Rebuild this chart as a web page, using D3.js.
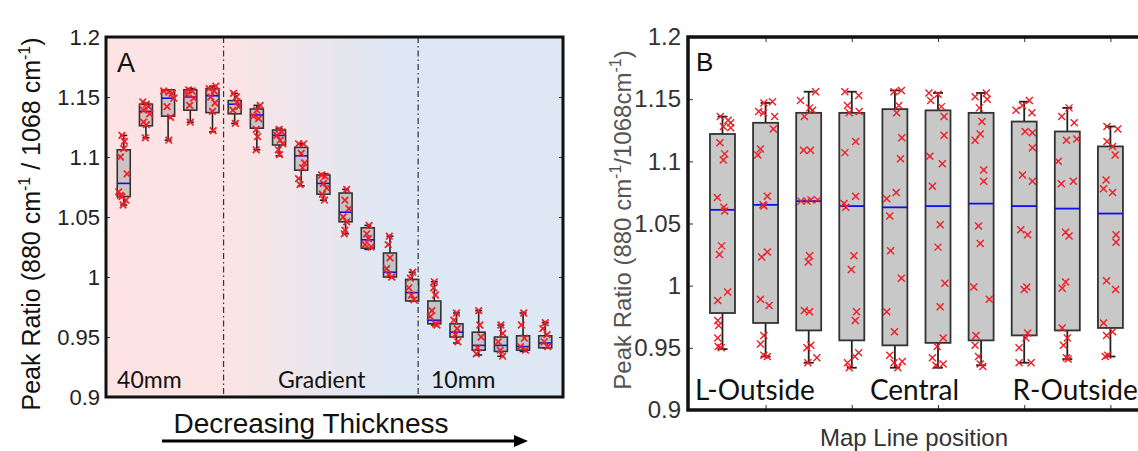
<!DOCTYPE html>
<html lang="en">
<head>
<meta charset="UTF-8">
<title>Peak ratio boxplots</title>
<script src="https://cdn.jsdelivr.net/npm/d3@7"></script>
<style>
  html, body { margin: 0; padding: 0; background: #fff; }
  svg { display: block; }
  .tick-lab { font-family: "Liberation Sans", Arial, sans-serif; }
  .cal { font-family: Lato, "Open Sans", sans-serif; }
</style>
</head>
<body>
<div id="vis"></div>
<script>
// ---------- panel A : 20 positions, decreasing thickness ----------
var aPos = d3.range(1, 21);
var aLo  = [1.060,1.116,1.114,1.129,1.121,1.128,1.106,1.101,1.076,1.064,1.036,1.023,1.000,0.980,0.960,0.945,0.935,0.934,0.938,0.941];
var aQ1  = [1.067,1.126,1.134,1.139,1.137,1.136,1.124,1.110,1.089,1.069,1.046,1.024,1.000,0.980,0.961,0.950,0.939,0.938,0.939,0.941];
var aMed = [1.078,1.138,1.149,1.150,1.151,1.144,1.135,1.118,1.101,1.078,1.054,1.031,1.004,0.987,0.964,0.954,0.943,0.943,0.942,0.945];
var aQ3  = [1.106,1.144,1.156,1.156,1.157,1.147,1.140,1.1225,1.108,1.085,1.070,1.041,1.020,0.998,0.980,0.961,0.954,0.950,0.951,0.951];
var aHi  = [1.118,1.145,1.156,1.157,1.159,1.153,1.143,1.124,1.111,1.086,1.073,1.043,1.034,1.004,0.996,0.970,0.972,0.960,0.970,0.962];
// points: [offset in category units, value]
var aPts = [
  [[-0.08,1.118],[0.03,1.113],[0,1.107],[-0.15,1.100],[0.15,1.086],[-0.23,1.071],[-0.15,1.068],[-0.08,1.067],[-0.03,1.060],[0.1,1.064]],
  [[-0.14,1.146],[0.02,1.144],[0.12,1.142],[-0.11,1.139],[0.17,1.136],[-0.11,1.129],[0.02,1.127],[-0.03,1.116]],
  [[-0.20,1.155],[0.03,1.154],[0.18,1.153],[0.26,1.149],[-0.05,1.142],[0.11,1.133],[0.03,1.114]],
  [[-0.08,1.156],[0.08,1.155],[-0.15,1.152],[0.15,1.149],[-0.03,1.143],[0,1.129]],
  [[-0.15,1.157],[0.15,1.159],[0.08,1.155],[-0.08,1.150],[0.11,1.145],[0,1.138],[0.03,1.122]],
  [[-0.05,1.153],[0.08,1.150],[0.11,1.146],[0.18,1.142],[-0.08,1.139],[0.03,1.128]],
  [[0.15,1.143],[0,1.139],[-0.15,1.134],[0.08,1.132],[-0.03,1.123],[0.03,1.117],[-0.03,1.106]],
  [[0,1.123],[0.12,1.121],[-0.1,1.118],[0.05,1.114],[0.17,1.111],[-0.03,1.106],[0.02,1.102]],
  [[-0.12,1.111],[0.11,1.111],[0,1.103],[0.15,1.095],[0.06,1.091],[-0.12,1.082],[-0.05,1.077]],
  [[-0.08,1.085],[0.08,1.084],[0,1.078],[0.15,1.074],[-0.05,1.069],[0.05,1.064]],
  [[0.05,1.073],[-0.03,1.064],[0.15,1.057],[-0.11,1.050],[0.05,1.046],[-0.03,1.039],[-0.06,1.036]],
  [[0.06,1.043],[-0.05,1.036],[0.03,1.032],[-0.12,1.027],[0.15,1.025]],
  [[-0.03,1.034],[-0.08,1.027],[0,1.016],[-0.15,1.007],[-0.05,1.002],[0.08,1.000]],
  [[0.03,1.004],[-0.08,0.999],[-0.15,0.991],[-0.03,0.985],[0.08,0.981]],
  [[0,0.996],[-0.03,0.991],[0.05,0.985],[-0.11,0.972],[-0.18,0.967],[0.05,0.961],[0.12,0.960]],
  [[0,0.970],[-0.12,0.964],[0.03,0.957],[-0.05,0.952],[0.06,0.946]],
  [[0,0.972],[0.05,0.960],[0.11,0.950],[-0.05,0.941],[-0.11,0.936]],
  [[0,0.960],[0.08,0.953],[-0.12,0.946],[-0.03,0.939],[0.08,0.934]],
  [[0.03,0.970],[-0.08,0.960],[0.06,0.949],[-0.12,0.942],[0.11,0.939]],
  [[0,0.962],[-0.11,0.957],[0.08,0.952],[-0.05,0.946],[0.11,0.942]]
];
var aRegions = [{label: "40mm", at: 0.7}, {label: "Gradient", at: 7.95}, {label: "10mm", at: 14.85}];
var aDividers = [5.5, 14.27];
var yTicks = [0.9, 0.95, 1, 1.05, 1.1, 1.15, 1.2];

// ---------- panel B : 10 map line positions ----------
var bPos = d3.range(1, 11);
var bLo  = [0.949,0.943,0.938,0.934,0.934,0.934,0.936,0.938,0.941,0.943];
var bQ1  = [0.978,0.970,0.964,0.956,0.952,0.954,0.956,0.960,0.964,0.966];
var bMed = [1.061,1.065,1.068,1.064,1.063,1.064,1.066,1.064,1.062,1.058];
var bQ3  = [1.122,1.131,1.139,1.139,1.142,1.141,1.139,1.132,1.124,1.112];
var bHi  = [1.136,1.147,1.156,1.156,1.157,1.155,1.155,1.148,1.143,1.128];
var bPts = [
  [[-0.05,1.136],[0.13,1.133],[0.19,1.131],[0.19,1.127],[0.02,1.128],[-0.06,1.115],[0.05,1.106],[0.02,1.101],[-0.12,1.071],[0.03,1.063],[0.05,1.060],[-0.02,1.032],[-0.07,1.025],[0.12,0.995],[-0.11,0.988],[-0.11,0.972],[-0.09,0.968],[-0.11,0.958],[-0.10,0.951],[-0.03,0.950]],
  [[-0.04,1.147],[0.16,1.148],[-0.16,1.140],[-0.05,1.139],[0.21,1.136],[0.18,1.126],[-0.12,1.110],[-0.18,1.105],[0.04,1.072],[-0.06,1.065],[-0.04,1.064],[-0.09,1.023],[0.04,1.027],[-0.12,0.989],[0.08,0.984],[-0.04,0.960],[-0.12,0.953],[-0.04,0.944],[0.04,0.943]],
  [[0.16,1.156],[-0.19,1.149],[0.02,1.143],[0.09,1.141],[-0.10,1.136],[-0.12,1.109],[0.04,1.109],[-0.18,1.068],[-0.04,1.068],[0.05,1.069],[0.21,1.069],[0.02,1.024],[-0.01,1.019],[-0.10,0.980],[0.02,0.979],[0.05,0.952],[-0.04,0.950],[0.19,0.942],[-0.02,0.938]],
  [[-0.16,1.156],[0.16,1.153],[-0.10,1.145],[0.17,1.140],[-0.06,1.139],[0.09,1.116],[-0.16,1.107],[0.09,1.072],[-0.18,1.066],[-0.14,1.063],[0.05,1.024],[-0.01,1.013],[0.11,0.979],[0.08,0.972],[0.16,0.946],[0.07,0.943],[-0.10,0.938],[-0.06,0.934]],
  [[-0.02,1.156],[0.15,1.157],[0.09,1.145],[0.04,1.139],[0.16,1.119],[0.13,1.102],[0.03,1.075],[-0.19,1.070],[-0.12,1.056],[-0.10,1.028],[0.15,1.006],[-0.19,0.979],[-0.01,0.963],[-0.12,0.944],[0.17,0.939],[-0.02,0.938],[0.07,0.934]],
  [[-0.21,1.155],[0,1.154],[-0.17,1.149],[0.08,1.144],[0.14,1.136],[0.14,1.121],[-0.19,1.104],[0.10,1.098],[-0.13,1.080],[0.05,1.049],[0,1.031],[0.16,1.002],[0.05,0.983],[0.12,0.958],[-0.02,0.951],[-0.13,0.942],[-0.05,0.936],[0.12,0.937]],
  [[-0.14,1.152],[0.12,1.155],[0.14,1.150],[-0.04,1.143],[0.02,1.132],[-0.02,1.122],[-0.14,1.117],[0.06,1.093],[0.06,1.084],[-0.06,1.048],[-0.02,1.034],[-0.17,0.999],[0.19,0.989],[-0.12,0.960],[-0.14,0.952],[-0.06,0.943],[-0.02,0.937],[0.04,0.935]],
  [[-0.19,1.141],[-0.04,1.145],[0.12,1.149],[0.18,1.139],[0.02,1.124],[0.19,1.123],[0.19,1.111],[-0.04,1.089],[0.19,1.084],[-0.08,1.045],[0.08,1.041],[0.06,0.999],[0,0.997],[0.08,0.962],[0.04,0.958],[-0.12,0.950],[-0.12,0.938],[0.16,0.938]],
  [[-0.13,1.136],[0.04,1.143],[0.16,1.131],[-0.02,1.117],[0.22,1.118],[-0.21,1.100],[-0.14,1.082],[0.14,1.084],[-0.04,1.043],[0.04,1.040],[-0.04,1.003],[-0.12,0.998],[-0.12,0.966],[0,0.958],[-0.09,0.952],[-0.02,0.942],[0.02,0.941]],
  [[-0.08,1.128],[0.17,1.126],[-0.08,1.116],[0.05,1.112],[0.11,1.105],[-0.10,1.085],[-0.16,1.078],[0.05,1.075],[0.13,1.041],[0.13,1.035],[-0.09,1.004],[0.12,0.997],[-0.16,0.970],[-0.09,0.960],[0.05,0.963],[-0.06,0.944],[-0.12,0.943]]
];
var bTopTicks = [2, 4, 6, 8, 10];
var bRegions = [{label: "L-Outside", at: 0.36}, {label: "Central", at: 4.42}, {label: "R-Outside", at: 7.73}];

var W = 1138, H = 451;
var svg = d3.select('#vis').append('svg').attr('width', W).attr('height', H);

var defs = svg.append('defs');
var grad = defs.append('linearGradient').attr('id', 'thick')
    .attr('gradientUnits', 'userSpaceOnUse');
function cross(g, s) {
    g.append('path').attr('d', 'M' + (-s) + ',' + (-s) + 'L' + s + ',' + s + 'M' + (-s) + ',' + s + 'L' + s + ',' + (-s));
}

// ================= Panel A =================
var ax = d3.scaleLinear().domain([0.2, 20.8]).range([106, 563]);
var ay = d3.scaleLinear().domain([0.9, 1.2]).range([397, 37]);

grad.attr('x1', ax(aDividers[0])).attr('x2', ax(aDividers[1]) - 30).attr('y1', 0).attr('y2', 0);
grad.append('stop').attr('offset', '0').attr('stop-color', '#fde3e4');
grad.append('stop').attr('offset', '1').attr('stop-color', '#dde8f4');

var gA = svg.append('g');
gA.append('rect').attr('x', ax.range()[0]).attr('y', ay(1.2))
    .attr('width', ax.range()[1] - ax.range()[0]).attr('height', ay(0.9) - ay(1.2))
    .attr('fill', 'url(#thick)');

gA.selectAll('.div').data(aDividers).enter().append('line')
    .attr('x1', function(d) { return ax(d); }).attr('x2', function(d) { return ax(d); })
    .attr('y1', ay(1.2)).attr('y2', ay(0.9))
    .attr('stroke', '#333').attr('stroke-width', 1.2).attr('stroke-dasharray', '6,3,1.5,3');

var aYAxis = d3.axisLeft(ay).tickValues(yTicks).tickSize(-4).tickPadding(6)
    .tickFormat(function(d) { return d3.format('')(d); });
gA.append('g').attr('transform', 'translate(' + ax.range()[0] + ',0)').call(aYAxis)
    .call(function(g) {
        g.select('.domain').remove();
        g.selectAll('text').attr('class', 'tick-lab').style('font-size', '22px').attr('fill', '#222');
        g.selectAll('line').attr('stroke', '#333');
    });
gA.append('g').attr('transform', 'translate(' + ax.range()[1] + ',0)')
    .call(d3.axisRight(ay).tickValues(yTicks).tickSize(-4).tickFormat(''))
    .call(function(g) { g.select('.domain').remove(); g.selectAll('line').attr('stroke', '#333'); });

function drawBoxes(g, xs, ys, pos, lo, q1, med, q3, hi, pts, bw, cap, o) {
    var boxes = g.selectAll('.box').data(pos).enter().append('g').attr('class', 'box');
    boxes.append('line')
        .attr('x1', function(d) { return xs(d); }).attr('x2', function(d) { return xs(d); })
        .attr('y1', function(d, i) { return ys(hi[i]); }).attr('y2', function(d, i) { return ys(q3[i]); })
        .attr('stroke', '#222').attr('stroke-width', o.sw);
    boxes.append('line')
        .attr('x1', function(d) { return xs(d); }).attr('x2', function(d) { return xs(d); })
        .attr('y1', function(d, i) { return ys(q1[i]); }).attr('y2', function(d, i) { return ys(lo[i]); })
        .attr('stroke', '#222').attr('stroke-width', o.sw);
    [hi, lo].forEach(function(arr) {
        boxes.append('line')
            .attr('x1', function(d) { return xs(d) - cap / 2; }).attr('x2', function(d) { return xs(d) + cap / 2; })
            .attr('y1', function(d, i) { return ys(arr[i]); }).attr('y2', function(d, i) { return ys(arr[i]); })
            .attr('stroke', '#222').attr('stroke-width', o.sw);
    });
    boxes.append('rect')
        .attr('x', function(d) { return xs(d) - bw / 2; }).attr('width', bw)
        .attr('y', function(d, i) { return ys(q3[i]); })
        .attr('height', function(d, i) { return ys(q1[i]) - ys(q3[i]); })
        .attr('fill', o.fill).attr('fill-opacity', o.op)
        .attr('stroke', '#333').attr('stroke-width', o.sw);
    boxes.append('line')
        .attr('x1', function(d) { return xs(d) - bw / 2; }).attr('x2', function(d) { return xs(d) + bw / 2; })
        .attr('y1', function(d, i) { return ys(med[i]); }).attr('y2', function(d, i) { return ys(med[i]); })
        .attr('stroke', '#1010ee').attr('stroke-width', o.msw);
    var k = xs(2) - xs(1);
    boxes.each(function(d, i) {
        d3.select(this).selectAll('.pt').data(pts[i]).enter().append('g').attr('class', 'pt')
            .attr('transform', function(p) { return 'translate(' + (xs(d) + p[0] * k) + ',' + ys(p[1]) + ')'; })
            .attr('stroke', '#ee1c24').attr('stroke-width', o.psw).attr('fill', 'none')
            .each(function() { cross(d3.select(this), o.ps); });
    });
}

drawBoxes(gA, ax, ay, aPos, aLo, aQ1, aMed, aQ3, aHi, aPts, 13, 7,
    {fill: '#a8a8a8', op: 0.55, sw: 1.6, msw: 1.6, psw: 1.7, ps: 3.3});

gA.selectAll('.reg').data(aRegions).enter().append('text')
    .attr('class', 'cal').attr('x', function(d) { return ax(d.at); }).attr('y', 388)
    .style('font-size', '23px').attr('fill', '#111').text(function(d) { return d.label; });
gA.append('text').attr('class', 'tick-lab').attr('x', 117).attr('y', 72)
    .style('font-size', '27px').attr('fill', '#111').text('A');

gA.append('rect').attr('x', ax.range()[0]).attr('y', ay(1.2))
    .attr('width', ax.range()[1] - ax.range()[0]).attr('height', ay(0.9) - ay(1.2))
    .attr('fill', 'none').attr('stroke', '#111').attr('stroke-width', 3);

var tA = gA.append('text').attr('class', 'tick-lab').style('font-size', '25px').attr('fill', '#111')
    .attr('text-anchor', 'middle')
    .attr('transform', 'translate(40,' + 224 + ') rotate(-90)');
tA.append('tspan').text('Peak Ratio (880 cm');
tA.append('tspan').attr('dy', -10).style('font-size', '16px').text('-1');
tA.append('tspan').attr('dy', 10).text(' / 1068 cm');
tA.append('tspan').attr('dy', -10).style('font-size', '16px').text('-1');
tA.append('tspan').attr('dy', 10).text(')');

gA.append('text').attr('class', 'tick-lab').attr('x', 311).attr('y', 433)
    .attr('text-anchor', 'middle').style('font-size', '28px').attr('fill', '#111').text('Decreasing Thickness');
gA.append('line').attr('x1', 162).attr('x2', 516).attr('y1', 441).attr('y2', 441)
    .attr('stroke', '#000').attr('stroke-width', 3);
gA.append('path').attr('d', 'M514,435 L528,441 L514,447 Z').attr('fill', '#000');

// ================= Panel B =================
var bx = d3.scaleLinear().domain([0.2, 11.8]).range([688, 1188]);
var by = d3.scaleLinear().domain([0.9, 1.2]).range([410, 37]);
var gB = svg.append('g');

gB.append('g').attr('transform', 'translate(' + bx.range()[0] + ',0)')
    .call(d3.axisLeft(by).tickValues(yTicks).tickSize(-5).tickPadding(7)
        .tickFormat(function(d) { return d3.format('')(d); }))
    .call(function(g) {
        g.select('.domain').remove();
        g.selectAll('text').attr('class', 'tick-lab').style('font-size', '24px').attr('fill', '#333');
        g.selectAll('line').attr('stroke', '#333');
    });
gB.append('g').attr('transform', 'translate(0,' + by(1.2) + ')')
    .call(d3.axisTop(bx).tickValues(bTopTicks).tickSize(-5).tickFormat(''))
    .call(function(g) { g.select('.domain').remove(); g.selectAll('line').attr('stroke', '#333'); });
gB.append('g').attr('transform', 'translate(0,' + by(0.9) + ')')
    .call(d3.axisBottom(bx).tickValues(bTopTicks).tickSize(-5).tickFormat(''))
    .call(function(g) { g.select('.domain').remove(); g.selectAll('line').attr('stroke', '#333'); });

drawBoxes(gB, bx, by, bPos, bLo, bQ1, bMed, bQ3, bHi, bPts, 25, 10,
    {fill: '#c8c8c8', op: 1, sw: 1.8, msw: 1.8, psw: 1.4, ps: 3.5});

gB.selectAll('.reg').data(bRegions).enter().append('text')
    .attr('class', 'cal').attr('x', function(d) { return bx(d.at); }).attr('y', 400)
    .style('font-size', '28px').attr('fill', '#111').text(function(d) { return d.label; });
gB.append('text').attr('class', 'tick-lab').attr('x', 696).attr('y', 71)
    .style('font-size', '26px').attr('fill', '#111').text('B');

gB.append('rect').attr('x', bx.range()[0]).attr('y', by(1.2))
    .attr('width', bx.range()[1] - bx.range()[0]).attr('height', by(0.9) - by(1.2))
    .attr('fill', 'none').attr('stroke', '#111').attr('stroke-width', 3.5);

var tB = gB.append('text').attr('class', 'tick-lab').style('font-size', '24px').attr('fill', '#555')
    .attr('text-anchor', 'middle')
    .attr('transform', 'translate(631,' + 220 + ') rotate(-90)');
tB.append('tspan').text('Peak Ratio (880 cm');
tB.append('tspan').attr('dy', -10).style('font-size', '16px').text('-1');
tB.append('tspan').attr('dy', 10).text('/1068cm');
tB.append('tspan').attr('dy', -10).style('font-size', '16px').text('-1');
tB.append('tspan').attr('dy', 10).text(')');

gB.append('text').attr('class', 'tick-lab').attr('x', 914).attr('y', 446)
    .attr('text-anchor', 'middle').style('font-size', '24px').attr('fill', '#333').text('Map Line position');
</script>
</body>
</html>
